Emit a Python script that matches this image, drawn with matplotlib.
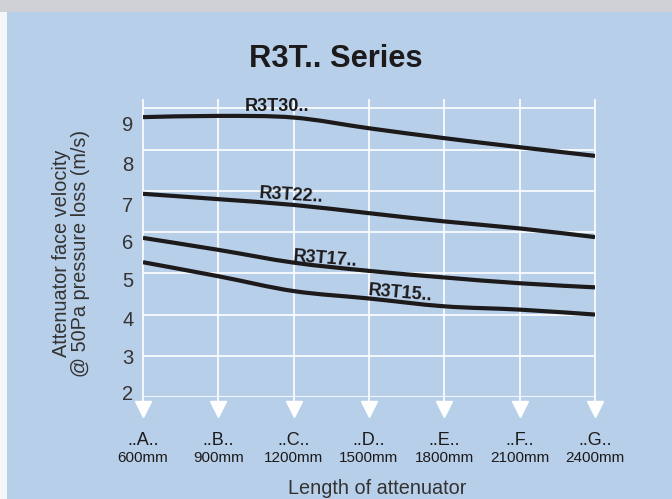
import numpy as np
import matplotlib
matplotlib.use('Agg')
import matplotlib.pyplot as plt
from matplotlib.path import Path
from matplotlib.patches import PathPatch, Rectangle
from matplotlib.transforms import ScaledTranslation

# data
letters = ['..A..', '..B..', '..C..', '..D..', '..E..', '..F..', '..G..']
lengths = ['600mm', '900mm', '1200mm', '1500mm', '1800mm', '2100mm', '2400mm']
r3t30 = [8.79, 8.82, 8.78, 8.52, 8.28, 8.06, 7.85]
r3t22 = [6.93, 6.80, 6.66, 6.46, 6.26, 6.09, 5.88]
r3t17 = [5.86, 5.57, 5.26, 5.06, 4.90, 4.76, 4.66]
r3t15 = [5.27, 4.93, 4.57, 4.39, 4.20, 4.12, 4.00]
series_names = ['R3T30..', 'R3T22..', 'R3T17..', 'R3T15..']
yticks = [2, 3, 4, 5, 6, 7, 8, 9]

BG = '#b8cfe9'
INK = '#1c1a1b'
TXT = '#333333'
plt.rcParams['font.family'] = ['Liberation Sans', 'DejaVu Sans']


def smooth_path(xs, ys):
    pts = np.column_stack([xs, ys]).astype(float)
    n = len(pts)
    verts = [pts[0]]
    codes = [Path.MOVETO]
    for i in range(n - 1):
        p0 = pts[max(i - 1, 0)]
        p1 = pts[i]
        p2 = pts[i + 1]
        p3 = pts[min(i + 2, n - 1)]
        verts += [p1 + (p2 - p0) / 6, p2 - (p3 - p1) / 6, p2]
        codes += [Path.CURVE4] * 3
    return Path(verts, codes)


fig = plt.figure(figsize=(6.72, 4.99), dpi=100, facecolor=BG)
# grey band at top and pale strip on the left
fig.patches.append(Rectangle((0, 1 - 12 / 499), 1, 12 / 499, transform=fig.transFigure,
                             facecolor='#cfd1d4', edgecolor='none', zorder=0))
fig.patches.append(Rectangle((0, 0), 7 / 672, 1 - 12 / 499, transform=fig.transFigure,
                             facecolor='#f4f6f9', edgecolor='none', zorder=0))

ax = fig.add_axes([143 / 672, 102 / 499, 452 / 672, 298 / 499])
ax.set_facecolor('none')
for s in ax.spines.values():
    s.set_visible(False)
ax.set_xlim(0, 6)
ax.set_ylim(2, 9.23)

x = np.arange(len(letters))
ax.hlines(yticks, 0, 6, colors='white', lw=1.2, zorder=1)
ax.vlines(x, 1.78, 9.23, colors='white', lw=1.2, zorder=1, clip_on=False)
ax.plot(x, [1.7] * len(x), 'v', color='white', markersize=11, clip_on=False, zorder=2)

for ys in [r3t30, r3t22, r3t17, r3t15]:
    ax.add_patch(PathPatch(smooth_path(x, ys), facecolor='none', edgecolor=INK,
                           lw=3.0, capstyle='butt', zorder=3))

# curve labels
label_pos = [(1.35, 8.94, 0), (1.54, 6.82, -3.5), (1.99, 5.31, -4.5), (2.99, 4.47, -5)]
for name, (lx, ly, rot) in zip(series_names, label_pos):
    ax.text(lx, ly, name, fontsize=13, fontweight='bold', color=INK,
            rotation=rot, rotation_mode='anchor', ha='left', va='baseline', zorder=4)

# y ticks (labels sit slightly off their gridlines in the original)
ax.set_yticks(yticks, [str(v) for v in yticks])
ax.tick_params(axis='y', length=0, pad=7, labelsize=14.5, labelcolor=TXT)
shift_px = [4, -1, -4, -6.5, -9, -13.5, -14, -15]
for lab, d in zip(ax.get_yticklabels(), shift_px):
    lab.set_transform(lab.get_transform() + ScaledTranslation(0, d / 100, fig.dpi_scale_trans))

ax.set_xticks([])
for i in x:
    ax.annotate(letters[i], xy=(i, 0), xycoords=('data', 'axes fraction'),
                xytext=(0, -48 / 100 * 72), textcoords='offset points',
                ha='center', va='baseline', fontsize=13, color=INK, annotation_clip=False)
    ax.annotate(lengths[i], xy=(i, 0), xycoords=('data', 'axes fraction'),
                xytext=(0, -65 / 100 * 72), textcoords='offset points',
                ha='center', va='baseline', fontsize=11, color=INK, annotation_clip=False)

fig.text(377 / 672, 1 - 494 / 499, 'Length of attenuator', ha='center', va='baseline',
         fontsize=14.3, color=TXT)
fig.text(71 / 672, 1 - 253 / 499, 'Attenuator face velocity\n@ 50Pa pressure loss (m/s)',
         rotation=90, ha='center', va='center', fontsize=14.3, color=TXT,
         linespacing=1.05, multialignment='center')
fig.text(336 / 672, 1 - 66.7 / 499, 'R3T.. Series', ha='center', va='baseline',
         fontsize=22.2, fontweight='bold', color=INK)

fig.savefig('out.png', dpi=100, facecolor=BG)
